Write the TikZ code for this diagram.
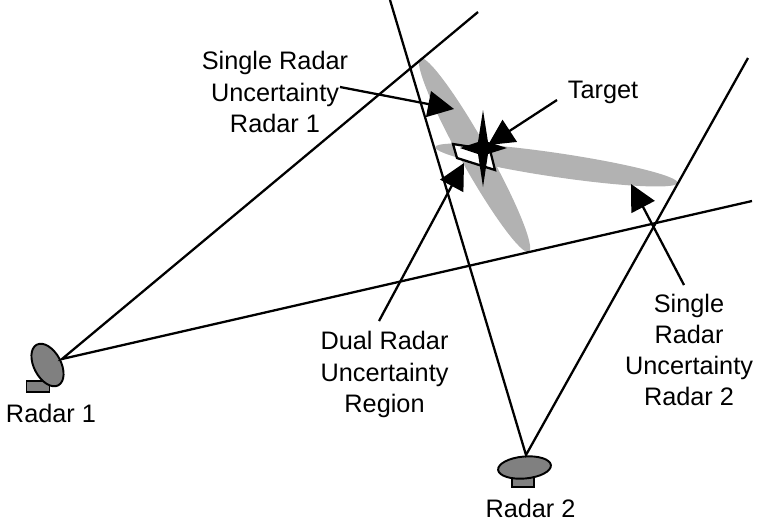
\documentclass[tikz,border=0pt]{standalone}
\usepackage{fontspec}
\setmainfont{Liberation Sans}
\usetikzlibrary{arrows.meta,shapes.geometric}
\tikzset{
    region/.style={ellipse,fill=black!30,inner sep=0pt},
    dish/.style={ellipse,draw,line width=1.1pt,fill=black!50,inner sep=0pt},
    mount/.style={rectangle,draw,line width=1.1pt,fill=black!50,inner sep=0pt},
    beam/.style={line width=1.3pt},
    pointer/.style={line width=1.3pt,-{Triangle[length=0.52cm,width=0.52cm]}},
    label/.style={align=center,inner sep=0pt,font=\fontsize{14.4}{17.8}\selectfont}
}
\begin{document}
\begin{tikzpicture}[x=0.02cm,y=-0.02cm]
    \useasboundingbox (0,0) rectangle (757,522);
    \node[region,minimum width=4.44cm,minimum height=0.56cm,rotate=-60.7] (regionA) at (474.5,155) {};
    \node[region,minimum width=4.9cm,minimum height=0.48cm,rotate=-8.4] (regionB) at (556.5,165) {};
    \node[mount,minimum width=0.46cm,minimum height=0.22cm] (mountA) at (38,386.5) {};
    \node[mount,minimum width=0.44cm,minimum height=0.2cm] (mountB) at (523,482) {};
    \node[dish,minimum width=0.92cm,minimum height=0.54cm,rotate=-62] (dishA) at (47.5,365) {};
    \node[dish,minimum width=1.06cm,minimum height=0.44cm,rotate=5] (dishB) at (524.5,467.5) {};
    \coordinate (apexA) at (62,359);
    \coordinate (apexB) at (526,455);
    \coordinate (endA) at (478,12);
    \coordinate (endB) at (752,201);
    \coordinate (endC) at (390,0);
    \coordinate (endD) at (748,58);
    \draw [beam] (endA) to (apexA) to (endB);
    \draw [beam] (endC) to (apexB) to (endD);
    % dual radar region
    \draw [line width=1.3pt,fill=white] (453,144) to (457,158) to (495,170) to (490,150) to cycle;
    % target
    \fill (483,110) to (488,142) to (507,148) to (488,154) to (483,187) to (478,154) to (460,148) to (478,142) to cycle;
    % labels
    \node[label] (labelA) at (275,92) {Single Radar\\Uncertainty\\Radar 1};
    \node[label] (labelB) at (603,92.5) {Target};
    \node[label] (labelC) at (384.5,374.5) {Dual Radar\\Uncertainty\\Region};
    \node[label] (labelD) at (689,350) {Single\\Radar\\Uncertainty\\Radar 2};
    \node[label] (nameA) at (51,413.5) {Radar 1};
    \node[label] (nameB) at (530.5,508) {Radar 2};
    \coordinate (startA) at (340,87);
    \coordinate (startB) at (557,100);
    \coordinate (startC) at (379,321);
    \coordinate (startD) at (684,285);
    \coordinate (tipA) at (454,109);
    \coordinate (tipB) at (488,145);
    \coordinate (tipC) at (464,163);
    \coordinate (tipD) at (631,184);
    \draw [pointer] (startA) to (tipA);
    \draw [pointer] (startB) to (tipB);
    \draw [pointer] (startC) to (tipC);
    \draw [pointer] (startD) to (tipD);
\end{tikzpicture}
\end{document}
